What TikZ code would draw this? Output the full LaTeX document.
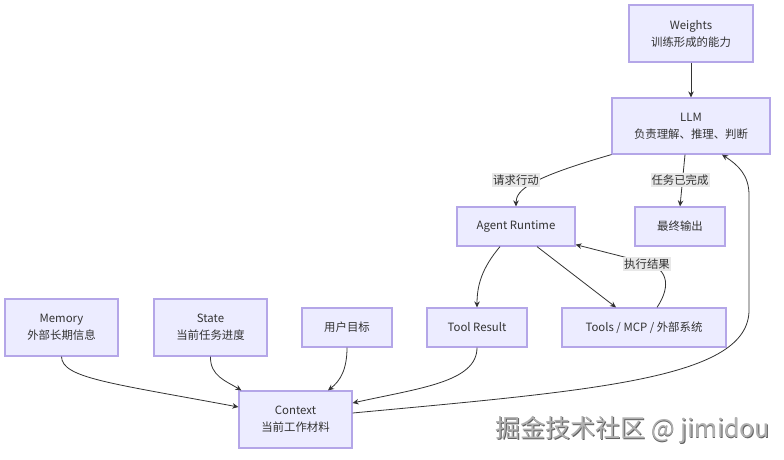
\documentclass[tikz,border=0pt]{standalone}
\usepackage{fontspec}
\setmainfont{Noto Sans CJK SC}
\usetikzlibrary{arrows.meta}
\definecolor{nodefill}{HTML}{ECECFF}
\definecolor{nodeline}{HTML}{B4A6E8}
\definecolor{edgec}{HTML}{333333}
\definecolor{lblbg}{HTML}{E8E8E8}
\definecolor{wmgray}{HTML}{B0B0B0}
\definecolor{wmdark}{HTML}{606060}
\begin{document}
\begin{tikzpicture}[x=1pt,y=-1pt,
  box/.style={draw=nodeline, fill=nodefill, line width=1.2pt, text=edgec,
    font=\fontsize{11.4}{17}\selectfont, align=center, inner sep=0pt},
  arr/.style={draw=edgec, line width=0.8pt, -{Stealth[length=6pt,width=5.5pt]}},
  lbl/.style={fill=lblbg, text=edgec, font=\fontsize{11.4}{14}\selectfont,
    inner xsep=1pt, inner ysep=2pt},
  wm/.style={anchor=west, font=\fontsize{25}{25}\selectfont}]
\useasboundingbox[fill=white] (0,0) rectangle (784,459);

% nodes
\node[box, minimum width=124pt, minimum height=57pt] (weights) at (691,33.5) {Weights\\训练形成的能力};
\node[box, minimum width=158pt, minimum height=56pt] (llm) at (691,126) {LLM\\负责理解、推理、判断};
\node[box, minimum width=118pt, minimum height=39pt] (agent) at (516,226.5) {Agent Runtime};
\node[box, minimum width=90pt, minimum height=39pt] (final) at (680,226.5) {最终输出};
\node[box, minimum width=113pt, minimum height=57pt] (memory) at (61.5,327.5) {Memory\\外部长期信息};
\node[box, minimum width=113pt, minimum height=57pt] (state) at (210.5,327.5) {State\\当前任务进度};
\node[box, minimum width=90pt, minimum height=39pt] (goal) at (347,327.5) {用户目标};
\node[box, minimum width=100pt, minimum height=39pt] (toolres) at (477,327.5) {Tool Result};
\node[box, minimum width=164pt, minimum height=39pt] (tools) at (644,327.5) {Tools / MCP / 外部系统};
\node[box, minimum width=113pt, minimum height=57pt] (context) at (295.5,419.5) {Context\\当前工作材料};

% edges
\draw[arr] (weights.south) -- (llm.north);
\draw[arr] (llm.south west) .. controls (530,178) and (516,190) .. (agent.north);
\draw[arr] ([xshift=-6pt]llm.south) -- (final.north);
\draw[arr] ([xshift=-16pt]agent.south) .. controls (482,268) and (477,285) .. (toolres.north);
\draw[arr] ([xshift=21pt]agent.south) -- ([xshift=-28pt]tools.north);
\draw[arr] ([xshift=13pt]tools.north) .. controls (672,285) and (668,266) .. (640,261) -- ([yshift=2pt]agent.south east);
\draw[arr] (memory.south) .. controls (62,378) and (110,383) .. ([yshift=12.5pt]context.west);
\draw[arr] (state.south) .. controls (210,376) and (226,381) .. ([xshift=3pt]context.north west);
\draw[arr] (goal.south) .. controls (347,370) and (340,381) .. ([xshift=32.5pt]context.north);
\draw[arr] (toolres.south) .. controls (477,382) and (420,388) .. ([yshift=16.5pt]context.east);
\draw[arr] ([yshift=6.5pt]context.east) .. controls (600,390) and (749,378) .. (749,310)
  -- (749,195) .. controls (749,175) and (738,165) .. ([xshift=31pt]llm.south);

% edge labels
\node[lbl] (l1) at (516,180) {请求行动};
\node[lbl] (l2) at (680,180) {任务已完成};
\node[lbl] (l3) at (647,264) {执行结果};

% watermark
\node[wm, text=wmdark] (wmshadow) at (492.8,430.8) {掘金技术社区 @ jimidou};
\node[wm, text=wmgray] (wmtext) at (492,430) {掘金技术社区 @ jimidou};
\end{tikzpicture}
\end{document}
